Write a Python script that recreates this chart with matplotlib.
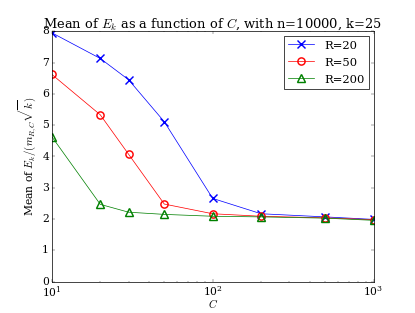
import matplotlib
matplotlib.use("Agg")
import matplotlib.pyplot as plt

plt.style.use("classic")
plt.rcParams["font.family"] = ["DejaVu Serif"]
plt.rcParams["mathtext.fontset"] = "cm"
plt.rcParams["font.size"] = 15
plt.rcParams["xtick.major.pad"] = 3

C_values = [10, 20, 30, 50, 100, 200, 500, 1000]
mean_r20 = [7.95, 7.13, 6.45, 5.11, 2.66, 2.17, 2.07, 1.99]
mean_r50 = [6.62, 5.33, 4.07, 2.48, 2.17, 2.09, 2.04, 1.98]
mean_r200 = [4.63, 2.47, 2.22, 2.15, 2.09, 2.07, 2.03, 1.96]
labels = ["R=20", "R=50", "R=200"]

fig = plt.figure(figsize=(8, 6.035), dpi=51.875, facecolor="white")
ax = fig.add_subplot(111)

ax.semilogx(C_values, mean_r20, "bx-", markersize=10, markeredgewidth=2, label=labels[0])
ax.semilogx(C_values, mean_r50, "ro-", markersize=10, markeredgewidth=2,
            markerfacecolor="none", markeredgecolor="r", label=labels[1])
ax.semilogx(C_values, mean_r200, "g^-", markersize=10, markeredgewidth=2,
            markerfacecolor="none", markeredgecolor="g", label=labels[2])

ax.set_xlim(10, 1000)
ax.set_ylim(0, 8)
ax.set_title(r"Mean of $E_k$ as a function of $C$, with n=10000, k=25", fontsize=18)
ax.set_xlabel(r"$C$", labelpad=-2)
ax.set_ylabel(r"Mean of $E_k/(m_{R,C}\sqrt{k})$", labelpad=6)
ax.legend(loc="upper right", numpoints=1, handlelength=2.2, handletextpad=0.9,
          labelspacing=0.6, borderaxespad=0.4, fontsize=16)

fig.savefig("out.png", dpi=51.875, facecolor="white")
